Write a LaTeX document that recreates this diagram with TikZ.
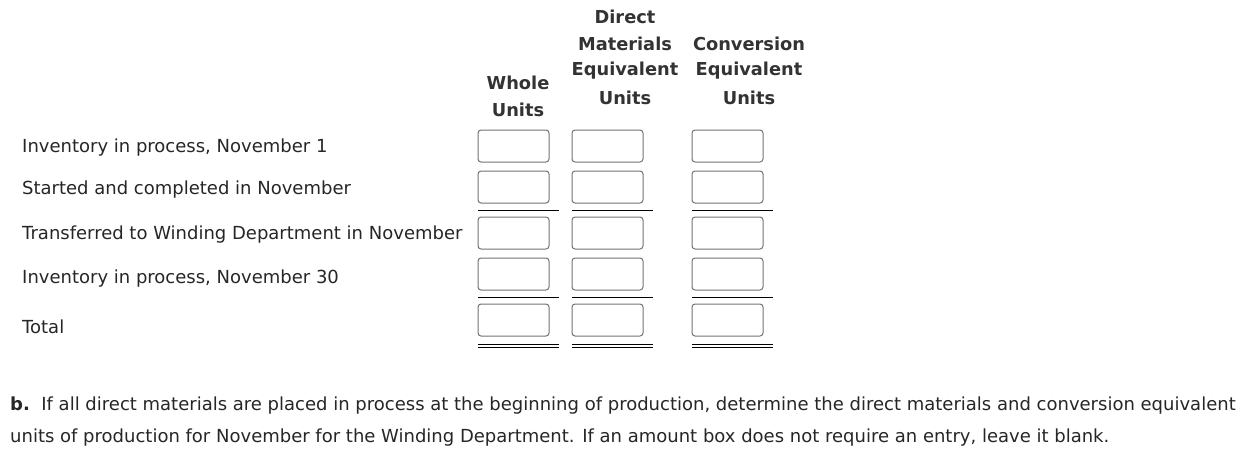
\documentclass[tikz,border=0pt]{standalone}
\usepackage{fontspec}
\setmainfont{DejaVu Sans}
\begin{document}
\begin{tikzpicture}[x=1pt,y=-1pt,
  txt/.style={font=\fontsize{18}{20}\selectfont,text=black!85,inner sep=0pt},
  hd/.style={font=\bfseries\fontsize{17.8}{20}\selectfont,text=black!80,inner sep=0pt},
  ibox/.style={draw=black!55,line width=1pt,rounded corners=3pt,fill=white}]
\useasboundingbox (0,0) rectangle (1249,459);
\node[hd] (h1) at (625,17) {Direct};
\node[hd] (h2) at (625,44) {Materials};
\node[hd] (h3) at (625,71) {Equivalent};
\node[hd] (h4) at (625,98) {Units};
\node[hd] (c2) at (749,44) {Conversion};
\node[hd] (c3) at (749,71) {Equivalent};
\node[hd] (c4) at (749,98) {Units};
\node[hd] (w1) at (518,83) {Whole};
\node[hd] (w2) at (518,110) {Units};
\foreach \y/\t [count=\i] in {148/{Inventory in process, November 1},190/{Started and completed in November},235/{Transferred to Winding Department in November},279/{Inventory in process, November 30},327/{Total}}
  \node[txt,anchor=west] (r\i) at (22,\y) {\t};
\foreach \x [count=\j] in {478,572,692}{
  \foreach \y [count=\i] in {130,171,217,258,304}
    \draw[ibox] (\x,\y) rectangle (\x+71,\y+32);
  \draw[line width=1pt] (\x,210) -- (\x+81,210);
  \draw[line width=1pt] (\x,297) -- (\x+81,297);
  \draw[line width=1pt] (\x,344) -- (\x+81,344);
  \draw[line width=1pt] (\x,347.5) -- (\x+81,347.5);
}
\node[txt,anchor=west] (b1) at (10,406) {\textbf{b.}\ \ If all direct materials are placed in process at the beginning of production, determine the direct materials and conversion equivalent};
\node[txt,anchor=west] (b2) at (10,438) {units of production for November for the Winding Department. If an amount box does not require an entry, leave it blank.};
\end{tikzpicture}
\end{document}
